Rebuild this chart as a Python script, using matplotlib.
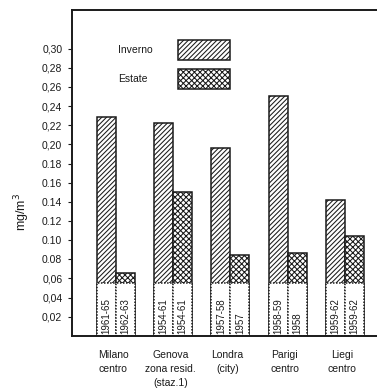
import matplotlib
matplotlib.use("Agg")
import matplotlib.pyplot as plt
from matplotlib.patches import Rectangle
import numpy as np

# Concentrazioni medie (mg/m3) per stagione
cities = ["Milano\ncentro", "Genova\nzona resid.\n(staz.1)", "Londra\n(city)",
          "Parigi\ncentro", "Liegi\ncentro"]
inverno = [0.229, 0.222, 0.196, 0.251, 0.142]
estate = [0.066, 0.150, 0.084, 0.087, 0.104]
inverno_years = ["1961-65", "1954-61", "1957-58", "1958-59", "1959-62"]
estate_years = ["1962-63", "1954-61", "1957", "1958", "1959-62"]
yticks = [0.02, 0.04, 0.06, 0.08, 0.10, 0.12, 0.14, 0.16, 0.18, 0.20,
          0.22, 0.24, 0.26, 0.28, 0.30]
ytick_labels = ["0,02", "0,04", "0,06", "0.08", "0.10", "0.12", "0.14", "0.16",
                "0.18", "0,20", "0,22", "0,24", "0,26", "0,28", "0,30"]

plt.rcParams["font.family"] = ["Liberation Sans", "DejaVu Sans"]
plt.rcParams["hatch.linewidth"] = 0.75

W, H = 377, 390
fig = plt.figure(figsize=(W / 100, H / 100), dpi=100)
ax = fig.add_axes([72 / W, 1 - 335.8 / H, 1 - 72 / W, (335.8 - 10) / H])

x = np.arange(len(cities))
w = 0.333
ink = "#1a1a1a"
hatch_inv = "///////"
hatch_est = "xxxxxx"

ax.bar(x - w / 2, inverno, w, facecolor="white", edgecolor=ink,
       hatch=hatch_inv, linewidth=1.1)
ax.bar(x + w / 2, estate, w, facecolor="white", edgecolor=ink,
       hatch=hatch_est, linewidth=1.1)

# white boxes at the foot of each bar carrying the period of measurement
box_h = 0.055
for xs, years in ((x - w / 2, inverno_years), (x + w / 2, estate_years)):
    for xi, yr in zip(xs, years):
        ax.bar(xi, box_h, w, facecolor="white", edgecolor=ink, linewidth=1.1,
               linestyle=(0, (1, 1)))
        ax.text(xi, 0.002, yr, rotation=90, ha="center", va="bottom",
                fontsize=7, color=ink)

ax.set_xlim(-(116 - 72) / 57.2, (377 - 116) / 57.2)
ax.set_ylim(0, (335.8 - 10) / 957)

ax.set_yticks(yticks)
ax.set_yticklabels(ytick_labels, fontsize=7.5, color=ink)
ax.tick_params(axis="y", direction="out", length=3, width=0.8, pad=4, colors=ink)
ax.set_xticks(x - 0.05)
ax.set_xticklabels(cities, fontsize=7.5, color=ink, linespacing=1.5, va="top")
ax.tick_params(axis="x", length=0, pad=10)

for side in ("left", "bottom", "top"):
    ax.spines[side].set_linewidth(1.4)
    ax.spines[side].set_color(ink)
ax.spines["right"].set_visible(False)

fig.text(22 / W, 1 - 212 / H, "mg/m$^3$", rotation=90, ha="center",
         va="center", fontsize=9, color=ink)

# legend: label on the left, hatched swatch on the right
for label, hatch, ytop in (("Inverno", hatch_inv, 40), ("Estate", hatch_est, 69)):
    fig.text(118 / W, 1 - (ytop + 10) / H, label, ha="left", va="center",
             fontsize=7.5, color=ink)
    fig.patches.append(Rectangle((178 / W, 1 - (ytop + 20) / H), 52 / W, 20 / H,
                                 transform=fig.transFigure, facecolor="white",
                                 edgecolor=ink, hatch=hatch, linewidth=1.1))

fig.savefig("out.png", dpi=100)
